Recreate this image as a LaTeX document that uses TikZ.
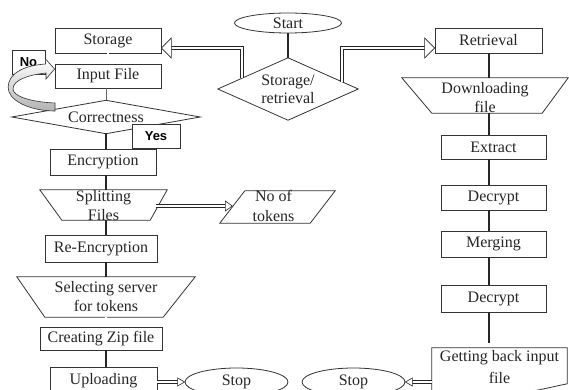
\documentclass[tikz,border=0pt]{standalone}
\usepackage{fontspec}
\setmainfont{Liberation Serif}
\newfontfamily\sansfam{Liberation Sans}
\usetikzlibrary{calc,shapes.geometric}
\begin{document}
\begin{tikzpicture}[x=1pt,y=-1pt,
  font=\fontsize{16}{19}\selectfont,
  box/.style={draw=black!80, line width=0.8pt, fill=white, inner sep=0pt, text=black!85, align=center},
  shp/.style={inner sep=0pt, text=black!85, align=center},
  outl/.style={draw=black!80, line width=0.8pt, fill=white},
  oval/.style={ellipse, draw=black!80, line width=0.8pt, fill=white, inner sep=0pt, text=black!85},
  tag/.style={draw=black!80, line width=0.8pt, fill=white, inner sep=0pt, text=black, font=\sansfam\bfseries\fontsize{13}{15}\selectfont},
  conn/.style={line width=2pt, black!85},
  thin/.style={line width=0.8pt, black!60},
  dbl/.style={line width=0.6pt, black!85, double=white, double distance=2.4pt},
  dblsmall/.style={line width=0.5pt, black!85, double=white, double distance=1.6pt},
  hd/.style={line width=0.6pt, black!85, fill=white, line join=miter}
]
\useasboundingbox (0,0) rectangle (569,390);

% ---------- left column ----------
\node[box, minimum width=106pt, minimum height=25pt] (storage) at (108,40.5) {Storage};
\node[box, minimum width=106pt, minimum height=24pt] (input) at (108,76) {Input File};
\node[shp, minimum width=188pt, minimum height=33pt] (corr) at (106,117) {};
\draw[outl] (corr.west) -- (corr.north) -- (corr.east) -- (corr.south) -- cycle;
\node[shp] at (corr.center) {Correctness};
\node[box, minimum width=106pt, minimum height=26pt] (enc) at (103,162) {Encryption};
\node[shp, minimum width=127pt, minimum height=30pt] (split) at (103.5,205) {};
\draw[outl] (split.north west) -- (split.north east) -- ($(split.south east)+(-17,0)$) -- ($(split.south west)+(22,0)$) -- cycle;
\node[shp] at ($(split.center)+(0,1)$) {Splitting\\Files};
\node[box, minimum width=112pt, minimum height=27pt] (reenc) at (101,248.5) {Re-Encryption};
\node[shp, minimum width=178pt, minimum height=40pt] (select) at (106,297) {};
\draw[outl] (select.north west) -- (select.north east) -- ($(select.south east)+(-32,0)$) -- ($(select.south west)+(28,0)$) -- cycle;
\node[shp] at (select.center) {Selecting server\\for tokens};
\node[box, minimum width=122pt, minimum height=23pt] (zip) at (101,338.5) {Creating Zip file};
\node[box, minimum width=107pt, minimum height=27pt] (upload) at (103.5,380.5) {Uploading};

% ---------- middle ----------
\node[oval, minimum width=107pt, minimum height=20pt] (start) at (288,23) {Start};
\node[shp, minimum width=140pt, minimum height=62pt] (sr) at (288,89) {};
\draw[outl] (sr.west) -- (sr.north) -- (sr.east) -- (sr.south) -- cycle;
\node[shp, font=\fontsize{16}{18}\selectfont] at (sr.center) {Storage/\\retrieval};
\node[shp, minimum width=115pt, minimum height=32pt] (tokens) at (277.5,207) {};
\draw[outl] ($(tokens.north west)+(25,0)$) -- (tokens.north east) -- ($(tokens.south east)+(-25,0)$) -- (tokens.south west) -- cycle;
\node[shp, font=\fontsize{16}{20}\selectfont] at ($(tokens.center)+(-4,-1)$) {No of\\tokens};
\node[oval, minimum width=103pt, minimum height=28pt] (stop1) at (236.5,382) {Stop};
\node[oval, minimum width=103pt, minimum height=28pt] (stop2) at (353.5,382) {Stop};

% ---------- right column ----------
\node[box, minimum width=107pt, minimum height=25pt] (retrieval) at (488.5,40.5) {Retrieval};
\node[shp, minimum width=166pt, minimum height=35pt] (download) at (485,95.5) {};
\draw[outl] (download.north west) -- (download.north east) -- ($(download.south east)+(-26,0)$) -- ($(download.south west)+(30,0)$) -- cycle;
\node[shp] at ($(download.center)+(0,2)$) {Downloading\\file};
\node[box, minimum width=105pt, minimum height=24pt] (extract) at (493.5,147) {Extract};
\node[box, minimum width=105pt, minimum height=25pt] (dec1) at (493.5,197.5) {Decrypt};
\node[box, minimum width=105pt, minimum height=26pt] (merge) at (493.5,244) {Merging};
\node[box, minimum width=105pt, minimum height=27pt] (dec2) at (493.5,298.5) {Decrypt};
\node[shp, minimum width=135pt, minimum height=46pt] (getback) at (499.5,371) {};
\draw[outl] (getback.north west) -- (getback.north east) -- ($(getback.north east)+(0,36)$)
  .. controls ($(getback.north east)+(-20,40)$) and ($(getback.north east)+(-40,46)$) .. ($(getback.south)+(0,0)$)
  -- (getback.south west) -- cycle;
\node[shp, font=\fontsize{16}{22}\selectfont] at ($(getback.center)+(0,-4)$) {Getting back input\\file};

% ---------- tags ----------
\node[tag, minimum width=48pt, minimum height=24pt] (yes) at (156,136) {Yes};
\node[tag, minimum width=33pt, minimum height=24pt] (no) at (28.5,62) {No};

% ---------- connectors left ----------
\draw[dblsmall] (storage.south) -- (input.north);
\draw[thin] (input.south -| corr.north) -- (corr.north);
\draw[conn] (corr.south) -- (corr.south |- enc.north);
\draw[conn] (enc.south -| corr.south) -- (split.north -| corr.south);
\draw[conn] ($(split.south)+(2.5,0)$ -| corr.south) -- (reenc.north -| corr.south);
\draw[conn] (reenc.south -| corr.south) -- (select.north -| corr.south);
\draw[dblsmall] (select.south -| corr.south) -- (zip.north -| corr.south);
\draw[conn] (zip.south -| corr.south) -- (upload.north -| corr.south);

% ---------- connectors middle ----------
\draw[conn] (start.south) -- (sr.north);
\coordinate (lsr) at ($(sr.west)!0.343!(sr.north)$);
\coordinate (rsr) at ($(sr.east)!0.229!(sr.north)$);
\coordinate (ltip) at ($(storage.east)+(0,7.5)$);
\coordinate (rtip) at ($(retrieval.west)+(0,7.5)$);
\draw[dbl] (lsr) |- ($(ltip)+(10,0)$);
\draw[hd] (ltip) -- ++(10,-10) -- ++(0,20) -- cycle;
\draw[dbl] (rsr) |- ($(rtip)+(-10,0)$);
\draw[hd] (rtip) -- ++(-10,-10) -- ++(0,20) -- cycle;

\coordinate (ttip) at ($(tokens.west)+(12.5,-1)$);
\draw[dbl] ($(split.east)+(-11,1)$) -- ($(ttip)+(-7,0)$);
\draw[hd] (ttip) -- ++(-7,-5) -- ++(0,10) -- cycle;

\draw[dbl] (upload.east |- stop1.west) -- ($(stop1.west)+(-7,0)$);
\draw[hd] (stop1.west) -- ++(-7,-4) -- ++(0,8) -- cycle;
\draw[dbl] (getback.west |- stop2.east) -- ($(stop2.east)+(7,0)$);
\draw[hd] (stop2.east) -- ++(7,-4) -- ++(0,8) -- cycle;

% ---------- connectors right ----------
\draw[conn] (retrieval.south) -- (retrieval.south |- download.north);
\draw[conn] (retrieval.south |- download.south) -- (retrieval.south |- extract.north);
\draw[conn] (retrieval.south |- extract.south) -- (retrieval.south |- dec1.north);
\draw[conn] (retrieval.south |- dec1.south) -- (retrieval.south |- merge.north);
\draw[conn] (retrieval.south |- merge.south) -- (retrieval.south |- dec2.north);
\draw[conn] (retrieval.south |- dec2.south) -- ($(retrieval.south |- getback.north)+(0,-5)$);

% ---------- curved "No" arrow ----------
\coordinate (ntip) at ($(input.west)+(0,-7)$);
\draw[black!80, line width=0.6pt, top color=white, bottom color=gray!60, line join=miter]
  (ntip) -- ++(-9,-10) -- ++(0,5)
  .. controls (15,66) and (5,80) .. (9,92)
  .. controls (14,104) and (35,111) .. (55,111)
  -- (55,103)
  .. controls (30,102) and (13,96) .. (13,89)
  .. controls (13,80) and (28,75) .. (46,73)
  -- (46,79) -- cycle;
\end{tikzpicture}
\end{document}
